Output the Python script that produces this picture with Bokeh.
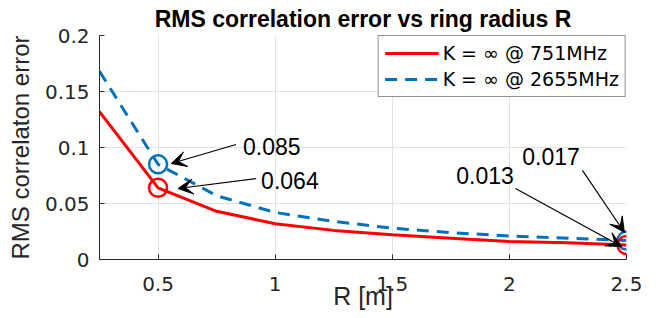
from bokeh.plotting import figure
from bokeh.models import Range1d, FixedTicker, Label, Arrow, VeeHead, Legend, LegendItem
from bokeh.embed import file_html
from bokeh.resources import INLINE

# data
R = [0.25, 0.5, 0.75, 1.0, 1.25, 1.5, 1.75, 2.0, 2.25, 2.5]
err_751 = [0.132, 0.064, 0.043, 0.032, 0.026, 0.022, 0.019, 0.016, 0.015, 0.013]
err_2655 = [0.168, 0.085, 0.057, 0.042, 0.034, 0.028, 0.024, 0.021, 0.019, 0.017]
marked_R = [0.5, 2.5]
marked_751 = [0.064, 0.013]
marked_2655 = [0.085, 0.017]
x_ticks = [0.5, 1, 1.5, 2, 2.5]
y_ticks = [0, 0.05, 0.1, 0.15, 0.2]

# annotations: text, text position, arrow tail, arrow head
ann_text = ["0.085", "0.064", "0.017", "0.013"]
ann_tx = [0.863, 0.940, 2.055, 1.773]
ann_ty = [0.1009, 0.0705, 0.092, 0.075]
arr_x0 = [0.833, 0.919, 2.312, 2.026]
arr_y0 = [0.1027, 0.0723, 0.0795, 0.0634]
arr_x1 = [0.556, 0.585, 2.491, 2.479]
arr_y1 = [0.0857, 0.0634, 0.0241, 0.0116]

FONT = "Liberation Sans"
WFONT = "DejaVu Sans"
RED = "#FF0000"
BLUE = "#0072BD"
AX = "#262626"

p = figure(width=663, height=318, output_backend="svg", toolbar_location=None,
           x_range=Range1d(0.25, 2.5), y_range=Range1d(0, 0.2),
           min_border_left=99, min_border_right=37, min_border_top=35, min_border_bottom=59)
p.outline_line_color = None
p.background_fill_color = "white"

p.title.text = "RMS correlation error vs ring radius R"
p.title.text_font = FONT
p.title.text_font_size = "23px"
p.title.text_font_style = "bold"
p.title.text_color = "black"
p.title.align = "center"
p.title.standoff = 7
p.title.offset = -5

for ax in (p.xaxis[0], p.yaxis[0]):
    ax.axis_line_color = AX
    ax.axis_line_width = 1
    ax.major_tick_line_color = AX
    ax.major_tick_in = 5
    ax.major_tick_out = 0
    ax.minor_tick_line_color = None
    ax.major_label_text_font = WFONT
    ax.major_label_text_font_size = "20px"
    ax.major_label_text_color = AX
    ax.axis_label_text_font = FONT
    ax.axis_label_text_font_style = "normal"
    ax.axis_label_text_color = AX

p.xaxis.ticker = FixedTicker(ticks=x_ticks)
p.yaxis.ticker = FixedTicker(ticks=y_ticks)
p.xaxis.major_label_overrides = {0.5: "0.5", 1: "1", 1.5: "1.5", 2: "2", 2.5: "2.5"}
p.yaxis.major_label_overrides = {0: "0", 0.05: "0.05", 0.1: "0.1", 0.15: "0.15", 0.2: "0.2"}
p.xaxis.major_label_standoff = 17
p.yaxis.major_label_standoff = 10
p.xaxis.axis_label = "R [m]"
p.xaxis.axis_label_text_font_size = "25px"
p.xaxis.axis_label_standoff = -12
p.yaxis.axis_label = "RMS correlaton error"
p.yaxis.axis_label_text_font_size = "24px"
p.yaxis.axis_label_standoff = 8

p.grid.grid_line_color = "#E3E3E3"
p.grid.grid_line_width = 1

r1 = p.line(R, err_751, line_color=RED, line_width=3)
r2 = p.line(R, err_2655, line_color=BLUE, line_width=3, line_dash="12 8")
p.scatter(marked_R, marked_2655, marker="circle", size=18, fill_color=None, line_color=BLUE, line_width=2.5)
p.scatter(marked_R, marked_751, marker="circle", size=18, fill_color=None, line_color=RED, line_width=2.5)

for i in range(len(ann_text)):
    p.add_layout(Arrow(end=VeeHead(size=15, fill_color="black", line_color="black"),
                       x_start=arr_x0[i], y_start=arr_y0[i], x_end=arr_x1[i], y_end=arr_y1[i],
                       line_color="black", line_width=1.2))
    p.add_layout(Label(x=ann_tx[i], y=ann_ty[i], text=ann_text[i], text_font=FONT,
                       text_font_size="23px", text_align="left", text_baseline="middle",
                       text_color="black"))

legend = Legend(items=[LegendItem(label="K = \u221e @ 751MHz", renderers=[r1]),
                       LegendItem(label="K = \u221e @ 2655MHz", renderers=[r2])],
                location="top_right", margin=0, padding=6, spacing=4,
                glyph_width=54, glyph_height=20, label_standoff=4,
                label_text_font=WFONT, label_text_font_size="19px", label_text_color="black",
                border_line_color=AX, border_line_width=1,
                background_fill_color="white", background_fill_alpha=1)
p.add_layout(legend)

open("out.html", "w").write(file_html(p, INLINE))
